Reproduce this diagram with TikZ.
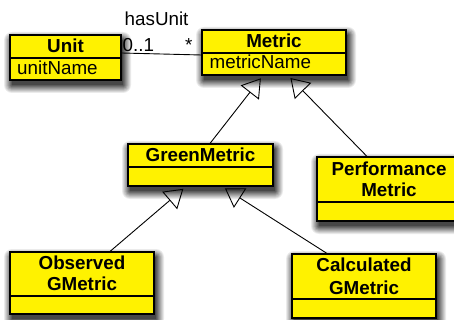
\documentclass[tikz,border=0pt]{standalone}
\usepackage{fontspec}
\setmainfont{Liberation Sans}
\usetikzlibrary{arrows.meta,fit}

\tikzset{
  classbox/.style={draw=black, line width=1.1pt, fill=yellow, inner sep=0pt},
  divider/.style={draw=black, line width=1.1pt},
  title/.style={font=\fontsize{18.8}{21}\selectfont\bfseries, inner sep=0pt, anchor=base},
  attr/.style={font=\fontsize{18.8}{21}\selectfont, inner sep=0pt, anchor=base west},
  lbl/.style={font=\fontsize{18.8}{21}\selectfont, inner sep=0pt, anchor=base west},
  gen/.style={draw=black, line width=0.9pt, shorten >=3.5pt,
    -{Triangle[open, length=18pt, width=23pt, line width=0.9pt]}},
  assoc/.style={draw=black, line width=0.9pt}
}

\begin{document}
\begin{tikzpicture}[x=1pt, y=-1pt]
  \useasboundingbox (0,0) rectangle (454,320);

  % box corners
  \coordinate (unit-nw)   at (10,35);   \coordinate (unit-se)   at (121,80);
  \coordinate (metric-nw) at (202,30);  \coordinate (metric-se) at (346,75);
  \coordinate (green-nw)  at (128,144); \coordinate (green-se)  at (273,186);
  \coordinate (perf-nw)   at (317,157); \coordinate (perf-se)   at (461,221);
  \coordinate (obs-nw)    at (10,252);  \coordinate (obs-se)    at (154,314);
  \coordinate (calc-nw)   at (292,254); \coordinate (calc-se)   at (436,318);

  % soft drop shadows: graded grey rectangles, lighter towards the rim
  \foreach \n in {unit,metric,green,perf,obs,calc}
    \foreach \e in {8,7,6,5,4,3,2,1,0} {
      \pgfmathtruncatemacro{\shd}{8+(8-\e)*8}
      \fill[black!\shd, rounded corners=\e pt]
        ([shift={(2-\e,5-\e)}]\n-nw) rectangle ([shift={(2+\e,5+\e)}]\n-se);
    }

  % class boxes
  \node[classbox, fit=(unit-nw)(unit-se)]     (unit)   {};
  \node[classbox, fit=(metric-nw)(metric-se)] (metric) {};
  \node[classbox, fit=(green-nw)(green-se)]   (green)  {};
  \node[classbox, fit=(perf-nw)(perf-se)]     (perf)   {};
  \node[classbox, fit=(obs-nw)(obs-se)]       (obs)    {};
  \node[classbox, fit=(calc-nw)(calc-se)]     (calc)   {};

  % compartment dividers
  \draw[divider] (unit.west |- 0,58)    -- (unit.east |- 0,58);
  \draw[divider] (metric.west |- 0,53)  -- (metric.east |- 0,53);
  \draw[divider] (green.west |- 0,167)  -- (green.east |- 0,167);
  \draw[divider] (perf.west |- 0,202)   -- (perf.east |- 0,202);
  \draw[divider] (obs.west |- 0,296)    -- (obs.east |- 0,296);
  \draw[divider] (calc.west |- 0,299)   -- (calc.east |- 0,299);

  % class names
  \node[title] (unit-name)   at (65.5,52.5)  {Unit};
  \node[title] (metric-name) at (274,47.7)   {Metric};
  \node[title] (green-name)  at (200.5,161.7) {GreenMetric};
  \node[title] (perf-name1)  at (389,175.7)  {Performance};
  \node[title] (perf-name2)  at (389,196.5)  {Metric};
  \node[title] (obs-name1)   at (82,269)     {Observed};
  \node[title] (obs-name2)   at (82,290.7)   {GMetric};
  \node[title] (calc-name1)  at (364,271.7)  {Calculated};
  \node[title] (calc-name2)  at (364,294)    {GMetric};

  % attributes
  \node[attr] (unit-attr)   at (17,75)      {unitName};
  \node[attr] (metric-attr) at (209.5,68.5) {metricName};

  % association
  \draw[assoc] (unit.east |- 0,53) -- (metric.west |- 0,55);
  \node[lbl] (assoc-name) at (124.5,26) {hasUnit};
  \node[lbl] (mult-unit)  at (122.5,51.5) {0..1};
  \node[lbl] (mult-metric) at (185,51.5) {*};

  % generalizations
  \draw[gen] (green.north -| 210,0) -- (metric.south -| 263,0);
  \draw[gen] (perf.north -| 367,0)  -- (metric.south -| 288,0);
  \draw[gen] (obs.north -| 110,0)   -- (green.south -| 186,0);
  \draw[gen] (calc.north -| 327,0)  -- (green.south -| 222,0);
\end{tikzpicture}
\end{document}
